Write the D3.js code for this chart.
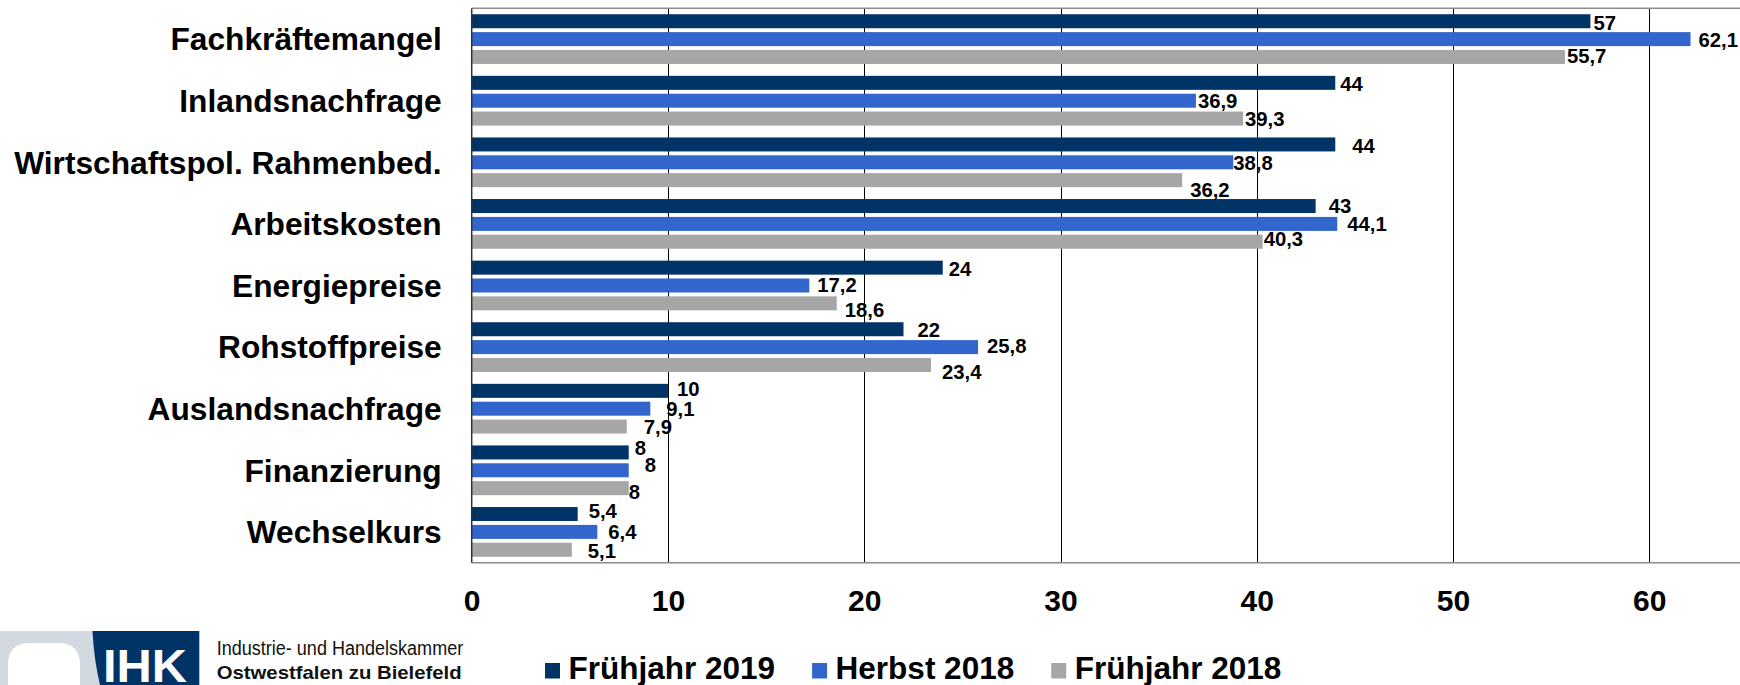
<!DOCTYPE html>
<html>
<head>
<meta charset="utf-8">
<script src="https://cdn.jsdelivr.net/npm/d3@7/dist/d3.min.js"></script>
<style>
  html, body { margin: 0; padding: 0; background: #fff; }
  svg { display: block; }
  text { font-family: "Liberation Sans", Arial, sans-serif; }
</style>
</head>
<body>
<svg id="chart" width="1740" height="685"></svg>
<script>
// ---------- data ----------
const categories = [
  "Fachkräftemangel",
  "Inlandsnachfrage",
  "Wirtschaftspol. Rahmenbed.",
  "Arbeitskosten",
  "Energiepreise",
  "Rohstoffpreise",
  "Auslandsnachfrage",
  "Finanzierung",
  "Wechselkurs"
];
const seriesNames = ["Frühjahr 2019", "Herbst 2018", "Frühjahr 2018"];
const fruehjahr2019 = [57, 44, 44, 43, 24, 22, 10, 8, 5.4];
const herbst2018    = [62.1, 36.9, 38.8, 44.1, 17.2, 25.8, 9.1, 8, 6.4];
const fruehjahr2018 = [55.7, 39.3, 36.2, 40.3, 18.6, 23.4, 7.9, 8, 5.1];
const xTicks = [0, 10, 20, 30, 40, 50, 60];

// ---------- styling / layout (not data) ----------
const seriesColors = ["#003366", "#3366CC", "#A6A6A6"];
// label nudges [gap from bar end, vertical shift] per category & series (Excel-like label placement)
const labelNudges = [
  [[3, 1], [8, 1], [2, -1]],
  [[5, 1], [2, 0], [2, 0]],
  [[17, 1], [0, 0], [8, 10]],
  [[13, 0], [10, 0], [1, -3.5]],
  [[6, 1], [8, -1], [8, 6]],
  [[14, 0], [9, -1.5], [11, 7]],
  [[9, -2], [16, 0], [17, 0]],
  [[6, -5], [16, -6], [0, 4]],
  [[11, -3.5], [11, 0], [16, 1]]
];

const plot = { left: 471.7, top: 8.3, bottom: 562.7, right: 1740 };

const svg = d3.select("#chart");

const seriesValues = [fruehjahr2019, herbst2018, fruehjahr2018];
const rows = [];
categories.forEach((c, i) => {
  seriesNames.forEach((s, j) => {
    rows.push({ cat: c, ci: i, series: s, si: j, value: seriesValues[j][i] });
  });
});

const x = d3.scaleLinear().domain([0, 60]).range([plot.left, 1649.3]);
const y = d3.scaleBand().domain(categories).range([plot.top, plot.bottom]);
const yInner = d3.scaleBand().domain(seriesNames).range([0, y.bandwidth()])
  .paddingInner(0.216).paddingOuter(0.333);

const fmt = v => String(v).replace(".", ",");

// gridlines
const grid = svg.append("g").attr("transform", `translate(0,${plot.bottom})`)
  .call(d3.axisBottom(x).tickValues(xTicks.filter(t => t > 0))
    .tickSize(-(plot.bottom - plot.top)).tickFormat(""));
grid.select(".domain").remove();
grid.selectAll("line").attr("stroke", "#000").attr("stroke-width", 1)
  .attr("shape-rendering", "crispEdges");

// plot frame lines
svg.append("line").attr("x1", plot.left).attr("x2", plot.right)
  .attr("y1", plot.top).attr("y2", plot.top)
  .attr("stroke", "#8c8c8c").attr("stroke-width", 1.5);
svg.append("line").attr("x1", plot.left).attr("x2", plot.right)
  .attr("y1", plot.bottom).attr("y2", plot.bottom)
  .attr("stroke", "#8c8c8c").attr("stroke-width", 1.5);

// bars
svg.append("g").selectAll("rect").data(rows).join("rect")
  .attr("x", x(0))
  .attr("y", d => y(d.cat) + yInner(d.series))
  .attr("width", d => x(d.value) - x(0))
  .attr("height", yInner.bandwidth())
  .attr("fill", d => seriesColors[d.si]);

// left axis line
svg.append("line").attr("x1", plot.left).attr("x2", plot.left)
  .attr("y1", plot.top).attr("y2", plot.bottom)
  .attr("stroke", "#333").attr("stroke-width", 1.5);

// value labels
svg.append("g").selectAll("text").data(rows).join("text")
  .attr("x", d => x(d.value) + labelNudges[d.ci][d.si][0])
  .attr("y", d => y(d.cat) + yInner(d.series) + yInner.bandwidth() / 2 + labelNudges[d.ci][d.si][1] + 7.3)
  .attr("font-size", 20.3).attr("font-weight", "bold").attr("fill", "#000")
  .text(d => fmt(d.value));

// category labels
svg.append("g").selectAll("text").data(categories).join("text")
  .attr("x", plot.left - 30)
  .attr("y", d => y(d) + y.bandwidth() / 2 + 11.2)
  .attr("text-anchor", "end")
  .attr("font-size", 31.7).attr("font-weight", "bold").attr("fill", "#000")
  .text(d => d);

// x axis tick labels
const xa = svg.append("g").attr("transform", `translate(0,${plot.bottom})`)
  .call(d3.axisBottom(x).tickValues(xTicks).tickSize(0).tickFormat(d3.format("d")));
xa.select(".domain").remove();
xa.selectAll("text").attr("y", 48).attr("dy", 0)
  .attr("font-size", 30).attr("font-weight", "bold").attr("fill", "#000")
  .attr("font-family", "'Liberation Sans', Arial, sans-serif");

// legend
const legend = svg.append("g");
let lx = 545;
seriesNames.forEach((s, j) => {
  legend.append("rect").attr("x", lx).attr("y", 663).attr("width", 15).attr("height", 15.5)
    .attr("fill", seriesColors[j]);
  const t = legend.append("text").attr("x", lx + 23.5).attr("y", 679)
    .attr("font-size", 31.5).attr("font-weight", "bold").attr("fill", "#000")
    .text(s);
  const w = t.node().getComputedTextLength();
  lx = lx + 23.5 + w + 37;
});

// IHK logo
const logo = svg.append("g");
logo.append("rect").attr("x", 0).attr("y", 631).attr("width", 100).attr("height", 54).attr("fill", "#D3D9E1");
logo.append("path")
  .attr("d", "M8,685 L8,665 Q8,643 30,643 L58,643 Q80,643 80,665 L80,685 Z")
  .attr("fill", "#fff");
logo.append("path")
  .attr("d", "M92.5,631 L199.3,631 L199.3,685 L100,685 Q94,660 92.5,631 Z")
  .attr("fill", "#003366");
logo.append("text").attr("x", 145).attr("y", 682).attr("text-anchor", "middle")
  .attr("font-size", 46).attr("font-weight", "bold").attr("fill", "#fff")
  .attr("textLength", 84).attr("lengthAdjust", "spacingAndGlyphs")
  .text("IHK");
logo.append("text").attr("x", 216.7).attr("y", 655)
  .attr("font-family", "'Open Sans', sans-serif").attr("font-size", 20).attr("fill", "#111")
  .attr("textLength", 246.5).attr("lengthAdjust", "spacingAndGlyphs")
  .text("Industrie- und Handelskammer");
logo.append("text").attr("x", 216.7).attr("y", 679)
  .attr("font-family", "'Open Sans', sans-serif").attr("font-size", 19).attr("font-weight", 600).attr("fill", "#111")
  .attr("textLength", 245).attr("lengthAdjust", "spacingAndGlyphs")
  .text("Ostwestfalen zu Bielefeld");
</script>
</body>
</html>
